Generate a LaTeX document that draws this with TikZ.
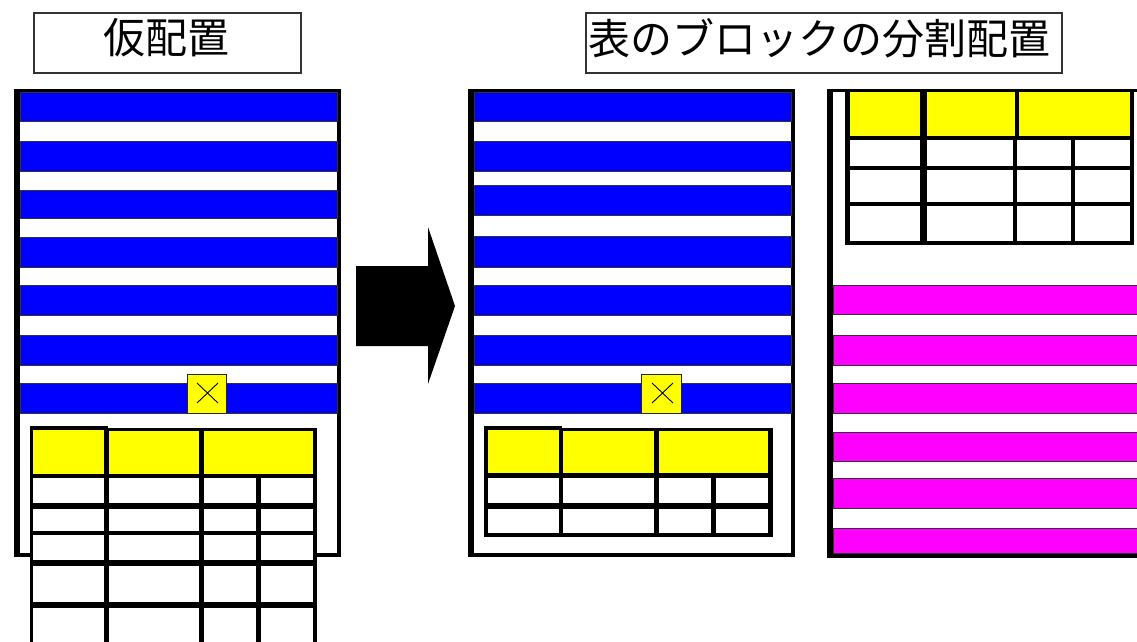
\documentclass[tikz,border=0pt]{standalone}
\usepackage{fontspec}
\newfontfamily\jp{Noto Sans CJK JP}
\definecolor{stripeblue}{RGB}{0,0,255}
\definecolor{stripemag}{RGB}{255,0,255}
\definecolor{cellyellow}{RGB}{255,255,0}
\tikzset{
  frame/.style={fill=black},
  inner/.style={fill=white},
  bluestripe/.style={fill=stripeblue, draw=black!80, line width=1pt},
  magstripe/.style={fill=stripemag, draw=black!80, line width=1pt},
  ycell/.style={fill=cellyellow},
  wcell/.style={fill=white},
  xbox/.style={fill=cellyellow, draw=black!85, line width=1pt},
  xmark/.style={draw=black, line width=0.9pt},
  titlebox/.style={draw=black!80, line width=1.2pt, inner sep=0pt, font=\jp\fontsize{42}{42}\selectfont},
  bigarrow/.style={fill=black}
}
\begin{document}
\begin{tikzpicture}[x=1pt,y=-1pt]
\useasboundingbox (0,0) rectangle (1137,642);
\clip (0,0) rectangle (1137,642);
\fill[white] (0,0) rectangle (1137,642);

% titles
\node[titlebox, minimum width=267pt, minimum height=60pt] (t1) at (167.5,43) {};
\node[font=\jp\fontsize{42}{42}\selectfont, inner sep=0pt] (t1txt) at (166,38) {仮配置};
\node[titlebox, minimum width=476pt, minimum height=60pt] (t2) at (824,43) {};
\node[font=\jp\fontsize{42}{42}\selectfont, inner sep=0pt] (t2txt) at (819,38) {表のブロックの分割配置};

% ---------- left page ----------
\fill[frame] (14,89) rectangle (341,557);
\fill[inner] (20,92) rectangle (337,553);
\foreach \a/\b in {92/121,141/171,190/218,237/267,285/315,335/365,383/413}
  \draw[bluestripe] (20,\a) rectangle (337,\b);
\draw[xbox] (187,374) rectangle (226,413);
\draw[xmark] (197,383) -- (218,403) (218,383) -- (197,403);

% left table (overflowing)
\fill[frame] (30,428) rectangle (317,660);
\fill[frame] (30,426) rectangle (108,430);
\fill[ycell] (33,430) rectangle (104,474);
\fill[ycell] (109,431) rectangle (199,474);
\fill[ycell] (204,431) rectangle (313,474);
\foreach \a/\b in {478/503,509/531,535/560,566/602,608/660}{
  \fill[wcell] (33,\a) rectangle (104,\b);
  \fill[wcell] (109,\a) rectangle (199,\b);
  \fill[wcell] (204,\a) rectangle (256,\b);
  \fill[wcell] (261,\a) rectangle (313,\b);
}

% ---------- arrow ----------
\fill[bigarrow] (356,266) -- (428,266) -- (428,227) -- (455,306) -- (428,384) -- (428,346) -- (356,346) -- cycle;

% ---------- middle page ----------
\fill[frame] (468,89) rectangle (795,557);
\fill[inner] (474,92) rectangle (791,553);
\foreach \a/\b in {92/121,141/171,185/215,236/267,285/315,335/365,383/413}
  \draw[bluestripe] (474,\a) rectangle (791,\b);
\draw[xbox] (641,374) rectangle (681,413);
\draw[xmark] (652,383) -- (673,403) (673,383) -- (652,403);

\fill[frame] (484,428) rectangle (773,537);
\fill[frame] (484,426) rectangle (562,430);
\fill[ycell] (488,430) rectangle (559,473);
\fill[ycell] (563,431) rectangle (654,473);
\fill[ycell] (659,431) rectangle (768,473);
\foreach \a/\b in {478/503,509/533}{
  \fill[wcell] (488,\a) rectangle (559,\b);
  \fill[wcell] (563,\a) rectangle (654,\b);
  \fill[wcell] (659,\a) rectangle (711,\b);
  \fill[wcell] (716,\a) rectangle (768,\b);
}

% ---------- right page ----------
\fill[frame] (827,89) rectangle (1150,558);
\fill[inner] (833,92) rectangle (1150,553);
\foreach \a/\b in {285/314,335/365,383/413,432/461,478/508,528/553}
  \draw[magstripe] (833,\a) rectangle (1150,\b);

\fill[frame] (845,89) rectangle (1134,245);
\fill[ycell] (850,92) rectangle (920,136);
\fill[ycell] (927,92) rectangle (1015,136);
\fill[ycell] (1019,92) rectangle (1130,136);
\foreach \a/\b in {140/166,170/202,206/241}{
  \fill[wcell] (850,\a) rectangle (920,\b);
  \fill[wcell] (927,\a) rectangle (1013,\b);
  \fill[wcell] (1017,\a) rectangle (1071,\b);
  \fill[wcell] (1075,\a) rectangle (1130,\b);
}
\end{tikzpicture}
\end{document}
